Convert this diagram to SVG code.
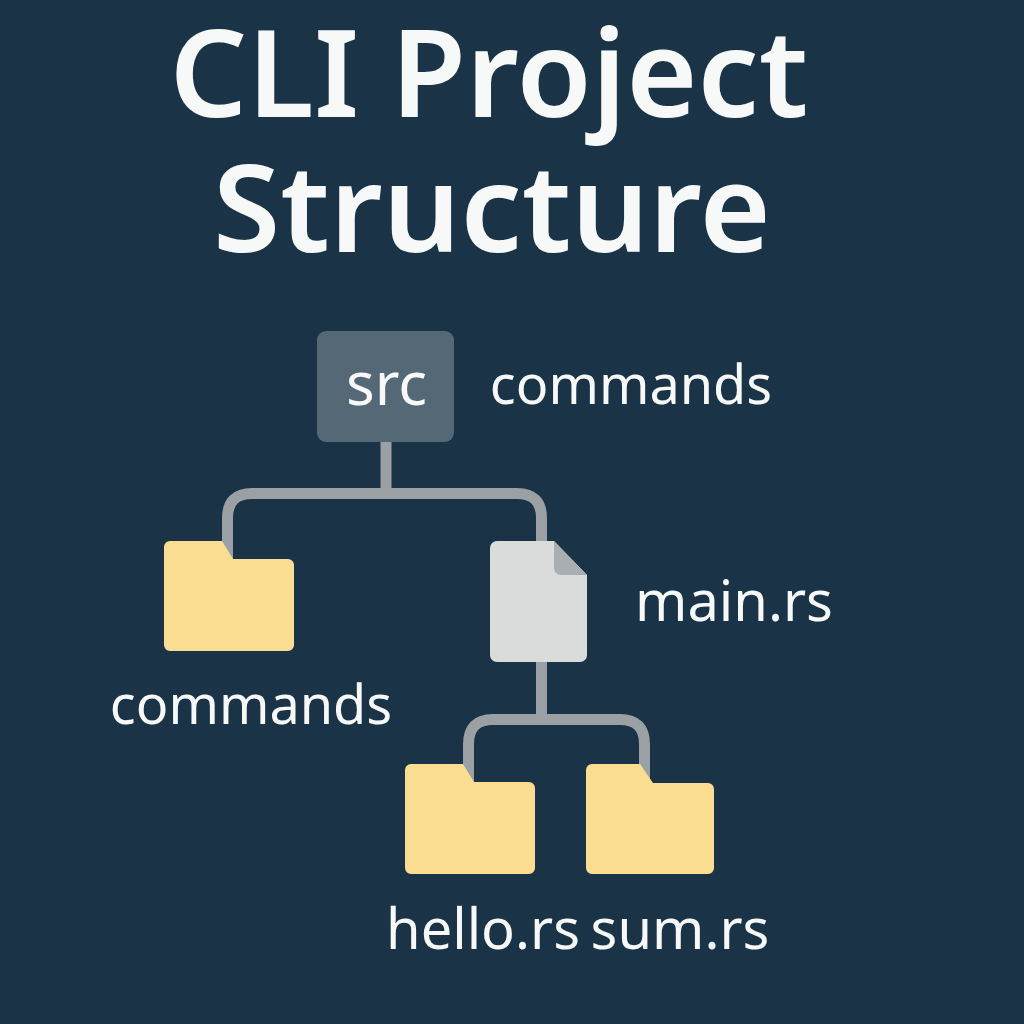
<svg xmlns="http://www.w3.org/2000/svg" width="1024" height="1024" viewBox="0 0 1024 1024">
<defs>
<style>
text{font-family:"Noto Sans","Open Sans",sans-serif;fill:#f7f8f8;text-anchor:middle}
.t{font-size:122px;font-weight:600}
.l{font-size:56px}
.m{font-size:54px}
.c{fill:none;stroke:#9aa0a3;stroke-width:11}
.f{fill:#fbdd92}
</style>
<path id="folder" d="M0 6a6 6 0 0 1 6-6H58L69 18H124a6 6 0 0 1 6 6V104a6 6 0 0 1-6 6H6a6 6 0 0 1-6-6Z"/>
</defs>
<rect width="1024" height="1024" fill="#1a3347"/>
<text class="t" x="489" y="117">CLI Project</text>
<text class="t" x="492" y="252">Structure</text>
<g id="connectors">
<path class="c" d="M386 442V494M227.500 565V518Q227.500 493.500 252 493.500H517Q541.500 493.500 541.500 518V550"/>
<path class="c" d="M541.500 660V719.500M468.500 790V744Q468.500 719.500 493 719.500H620Q644.500 719.500 644.500 744V790"/>
</g>
<g id="src"><rect x="317" y="331" width="137" height="111" rx="9" fill="#546875"/><text class="l" x="386.500" y="405" style="font-size:60px">src</text></g>
<text class="m" x="631" y="404">commands</text>
<g id="commands-folder"><use href="#folder" x="164" y="541" class="f"/><text class="m" x="251" y="724">commands</text></g>
<g id="main-rs"><path d="M497 541H554L587 575V655a7 7 0 0 1-7 7H497a7 7 0 0 1-7-7V548a7 7 0 0 1 7-7Z" fill="#d9dcda"/><path d="M554 541L587 575H561a7 7 0 0 1-7-7Z" fill="#a9afb0"/><text class="l" x="734" y="621">main.rs</text></g>
<g id="hello-rs"><use href="#folder" x="405" y="764" class="f"/><text class="l" x="483" y="949">hello.rs</text></g>
<g id="sum-rs"><path class="f" d="M586 770a6 6 0 0 1 6-6H640L653 783H708a6 6 0 0 1 6 6V868a6 6 0 0 1-6 6H592a6 6 0 0 1-6-6Z"/><text class="l" x="680" y="949">sum.rs</text></g>
</svg>
